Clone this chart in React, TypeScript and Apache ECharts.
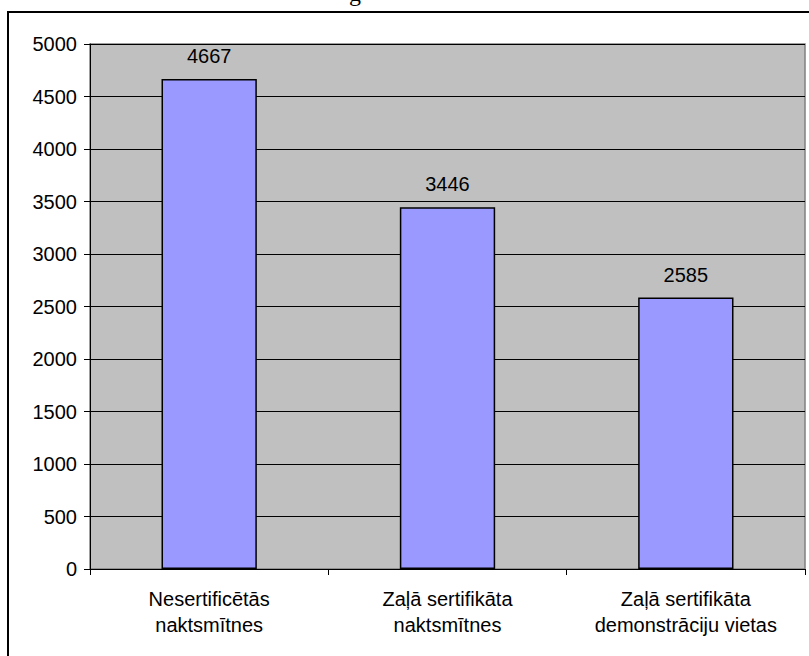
import React, { useEffect, useRef } from "react";
import * as echarts from "echarts";

const categories = ["Nesertificētās\nnaktsmītnes", "Zaļā sertifikāta\nnaktsmītnes", "Zaļā sertifikāta\ndemonstrāciju vietas"];
const values = [4667, 3446, 2585];
const yTicks = { min: 0, max: 5000, interval: 500 };

export default function App() {
  const ref = useRef<HTMLDivElement>(null);
  useEffect(() => {
    const chart = echarts.init(ref.current!, undefined, { renderer: "svg" });
    const font = "Liberation Sans, Arial, sans-serif";
    chart.setOption({
      animation: false,
      backgroundColor: "#ffffff",
      graphic: [
        {
          type: "rect",
          shape: { x: 8, y: 12, width: 900, height: 800 },
          style: { fill: "none", stroke: "#000", lineWidth: 2 },
          z: -1,
        },
        {
          type: "text",
          x: 355,
          y: -19,
          style: { text: "g", font: "24px 'Liberation Serif', serif", fill: "#000", align: "center" },
        },
      ],
      grid: { left: 90, right: 4, top: 44, bottom: 87, show: true, backgroundColor: "#c0c0c0", borderColor: "#808080", borderWidth: 1.5 },
      xAxis: {
        type: "category",
        data: categories,
        axisLine: { lineStyle: { color: "#000", width: 1 } },
        axisTick: { show: true, length: 6, lineStyle: { color: "#000" } },
        axisLabel: { color: "#000", fontFamily: font, fontSize: 20, lineHeight: 26, margin: 17 },
      },
      yAxis: {
        type: "value",
        ...yTicks,
        axisLine: { show: true, lineStyle: { color: "#000", width: 1 } },
        axisTick: { show: true, length: 6, lineStyle: { color: "#000" } },
        axisLabel: { color: "#000", fontFamily: font, fontSize: 20, margin: 13, formatter: (v: number) => String(v) },
        splitLine: { lineStyle: { color: "#000", width: 1 } },
      },
      series: [
        {
          type: "bar",
          data: values,
          barWidth: "40%",
          itemStyle: { color: "#9999ff", borderColor: "#000", borderWidth: 1.5 },
          label: { show: true, position: "top", distance: 13, color: "#000", fontFamily: font, fontSize: 20 },
        },
      ],
    });
    return () => chart.dispose();
  }, []);
  return <div ref={ref} style={{ position: "fixed", left: 0, top: 0, width: 809, height: 656 }} />;
}
